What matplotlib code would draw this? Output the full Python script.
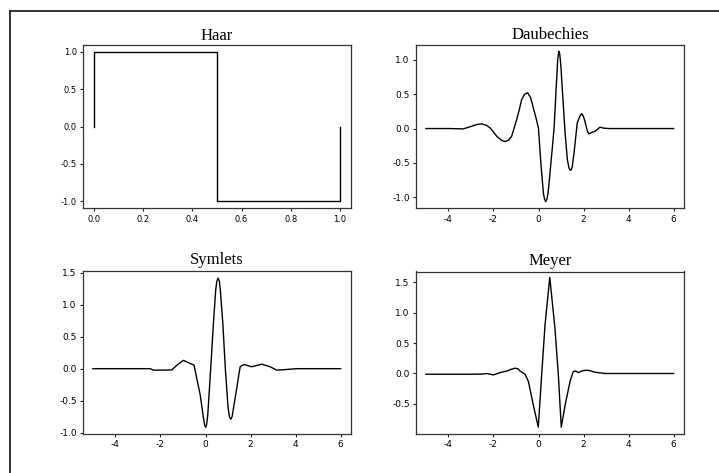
import matplotlib
matplotlib.use("Agg")
import matplotlib.pyplot as plt
from matplotlib.lines import Line2D

# ---- data ----
haar_x = [0.0, 0.0, 0.5, 0.5, 1.0, 1.0]
haar_y = [0.0, 1.0, 1.0, -1.0, -1.0, 0.0]

daub_x = [-5.0, -4.0, -3.34, -2.96, -2.75, -2.52, -2.3, -2.15, -1.86, -1.65, -1.49,
          -1.33, -1.19, -0.97, -0.85, -0.75, -0.62, -0.48, -0.35, -0.23, -0.1, 0.0,
          0.05, 0.1, 0.14, 0.22, 0.27, 0.32, 0.37, 0.42, 0.46, 0.51, 0.6, 0.69, 0.74,
          0.78, 0.82, 0.85, 0.88, 0.91, 0.94, 0.97, 1.0, 1.03, 1.1, 1.18, 1.28,
          1.35, 1.39, 1.43, 1.47, 1.5, 1.58, 1.72, 1.85, 1.92, 1.99, 2.06, 2.17, 2.24,
          2.4, 2.51, 2.73, 2.9, 3.17, 4.0, 5.0, 6.0]
daub_y = [0.0, 0.0, -0.005, 0.034, 0.058, 0.068, 0.045, 0.01, -0.11, -0.17, -0.19,
          -0.17, -0.11, 0.13, 0.28, 0.42, 0.5, 0.52, 0.45, 0.3, 0.14, 0.0,
          -0.25, -0.48, -0.645, -0.95, -1.03, -1.067, -1.03, -0.95, -0.82, -0.645, -0.33, 0.0, 0.3,
          0.57, 0.8, 1.0, 1.08, 1.125, 1.09, 1.0, 0.88, 0.71, 0.35, -0.063, -0.45,
          -0.57, -0.6, -0.607, -0.59, -0.55, -0.35, 0.083, 0.19, 0.218, 0.18, 0.106, -0.04, -0.078,
          -0.05, -0.04, 0.02, 0.005, 0.0, 0.0, 0.0, 0.0]

sym_x = [-5.0, -4.0, -3.0, -2.46, -2.31, -2.0, -1.5, -1.27, -0.98, -0.8, -0.68, -0.51,
         -0.39, -0.24, -0.1, -0.04, 0.01, 0.05, 0.1, 0.23, 0.35, 0.45, 0.5, 0.56, 0.62,
         0.66, 0.77, 0.88, 1.0, 1.06, 1.12, 1.18, 1.24, 1.39, 1.5, 1.54, 1.71, 2.05, 2.5,
         2.87, 3.16, 3.6, 4.05, 5.0, 6.0]
sym_y = [0.0, 0.0, 0.0, 0.0, -0.023, -0.023, -0.02, 0.055, 0.13, 0.1, 0.08, 0.055,
         -0.15, -0.4, -0.75, -0.88, -0.917, -0.87, -0.72, 0.0, 0.7, 1.22, 1.36, 1.415, 1.36,
         1.22, 0.7, 0.0, -0.6, -0.75, -0.79, -0.75, -0.62, -0.3, -0.05, 0.03, 0.065, 0.03, 0.07,
         0.03, -0.023, -0.013, 0.0, 0.0, 0.0]

mey_x = [-5.0, -4.0, -3.0, -2.5, -2.3, -2.0, -1.71, -1.41, -1.2, -1.04, -0.9, -0.82,
         -0.6, -0.45, -0.23, -0.01, 0.14, 0.29, 0.5, 0.73, 0.88, 1.01, 1.18, 1.4,
         1.54, 1.65, 1.77, 1.95, 2.14, 2.3, 2.51, 2.75, 2.95, 4.0, 5.0, 6.0]
mey_y = [-0.012, -0.012, -0.012, -0.01, 0.0, -0.023, 0.015, 0.04, 0.07, 0.087, 0.075, 0.04,
         -0.01, -0.13, -0.52, -0.88, -0.02, 0.8, 1.577, 0.74, -0.02, -0.88, -0.52, -0.13,
         0.03, 0.04, 0.015, 0.045, 0.054, 0.045, 0.02, 0.01, 0.0, 0.0, 0.0, 0.0]

titles = ["Haar", "Daubechies", "Symlets", "Meyer"]
haar_ticks = [0.0, 0.2, 0.4, 0.6, 0.8, 1.0]
wide_ticks = [-4, -2, 0, 2, 4, 6]

plt.rcParams['axes.unicode_minus'] = False
plt.rcParams['font.family'] = ['DejaVu Sans']

W, H = 719, 473
fig = plt.figure(figsize=(W / 100, H / 100), dpi=100)

def frac(l, t, r, b):
    return [l / W, 1 - b / H, (r - l) / W, (b - t) / H]

boxes = [frac(83, 44.5, 351, 208.5), frac(416, 45.5, 684, 208.5),
         frac(83, 271, 351, 434), frac(416, 271.5, 684, 434)]
series = [(haar_x, haar_y), (daub_x, daub_y), (sym_x, sym_y), (mey_x, mey_y)]
pads = [3.2, 5.0, 5.0, 5.0]
xlims = [(-0.045, 1.045), (-5.44, 6.46), (-5.44, 6.46), (-5.44, 6.46)]
ylims = [(-1.1, 1.1), (-1.165, 1.21), (-1.02, 1.525), (-0.993, 1.674)]

for i, (box, (xs, ys), title) in enumerate(zip(boxes, series, titles)):
    ax = fig.add_axes(box)
    ax.plot(xs, ys, color='black', lw=1.0)
    ax.set_title(title, family='Liberation Serif', fontsize=12, pad=pads[i])
    ax.set_xlim(*xlims[i])
    ax.set_ylim(*ylims[i])
    if i == 0:
        ax.set_xticks(haar_ticks)
        ax.set_yticks([-1.0, -0.5, 0.0, 0.5, 1.0])
        ls = 6.0
    else:
        ax.set_xticks(wide_ticks)
        ls = 6.5
    ax.tick_params(length=2.5, width=0.8, labelsize=ls, pad=2, color='#222222')
    for s in ax.spines.values():
        s.set_linewidth(0.9)
        s.set_color('#333333')

# outer frame (cropped rectangle)
fx = 10 / W
fy = 1 - 10.7 / H
fig.add_artist(Line2D([fx, fx], [0, fy], transform=fig.transFigure, color='#222222', lw=1.3))
fig.add_artist(Line2D([fx, 1], [fy, fy], transform=fig.transFigure, color='#222222', lw=1.3))

fig.savefig('out.png', dpi=100)
